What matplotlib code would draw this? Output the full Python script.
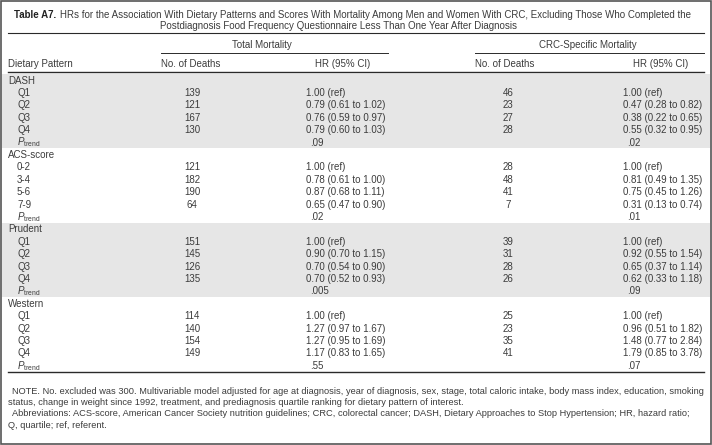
import matplotlib
matplotlib.use("Agg")
import matplotlib.pyplot as plt

plt.rcParams['font.family'] = ['Liberation Sans', 'DejaVu Sans']
plt.rcParams['mathtext.fontset'] = 'custom'
plt.rcParams['mathtext.rm'] = 'Liberation Sans'
plt.rcParams['mathtext.it'] = 'Liberation Sans:italic'

# table data
patterns = ['DASH', 'ACS-score', 'Prudent', 'Western']
levels = [['Q1', 'Q2', 'Q3', 'Q4'],
          ['0-2', '3-4', '5-6', '7-9'],
          ['Q1', 'Q2', 'Q3', 'Q4'],
          ['Q1', 'Q2', 'Q3', 'Q4']]

total_deaths = [[139, 121, 167, 130], [121, 182, 190, 64],
                [151, 145, 126, 135], [114, 140, 154, 149]]
total_hr = [[1.00, 0.79, 0.76, 0.79], [1.00, 0.78, 0.87, 0.65],
            [1.00, 0.90, 0.70, 0.70], [1.00, 1.27, 1.27, 1.17]]
total_lo = [[None, 0.61, 0.59, 0.60], [None, 0.61, 0.68, 0.47],
            [None, 0.70, 0.54, 0.52], [None, 0.97, 0.95, 0.83]]
total_hi = [[None, 1.02, 0.97, 1.03], [None, 1.00, 1.11, 0.90],
            [None, 1.15, 0.90, 0.93], [None, 1.67, 1.69, 1.65]]
total_ptrend = ['.09', '.02', '.005', '.55']

crc_deaths = [[46, 23, 27, 28], [28, 48, 41, 7],
              [39, 31, 28, 26], [25, 23, 35, 41]]
crc_hr = [[1.00, 0.47, 0.38, 0.55], [1.00, 0.81, 0.75, 0.31],
          [1.00, 0.92, 0.65, 0.62], [1.00, 0.96, 1.48, 1.79]]
crc_lo = [[None, 0.28, 0.22, 0.32], [None, 0.49, 0.45, 0.13],
          [None, 0.55, 0.37, 0.33], [None, 0.51, 0.77, 0.85]]
crc_hi = [[None, 0.82, 0.65, 0.95], [None, 1.35, 1.26, 0.74],
          [None, 1.54, 1.14, 1.18], [None, 1.82, 2.84, 3.78]]
crc_ptrend = ['.02', '.01', '.09', '.07']

title1 = ("HRs for the Association With Dietary Patterns and Scores With Mortality "
          "Among Men and Women With CRC, Excluding Those Who Completed the")
title2 = "Postdiagnosis Food Frequency Questionnaire Less Than One Year After Diagnosis"
notes = [
    "NOTE. No. excluded was 300. Multivariable model adjusted for age at diagnosis, year of diagnosis, "
    "sex, stage, total caloric intake, body mass index, education, smoking",
    "status, change in weight since 1992, treatment, and prediagnosis quartile ranking for dietary pattern of interest.",
    "Abbreviations: ACS-score, American Cancer Society nutrition guidelines; CRC, colorectal cancer; "
    "DASH, Dietary Approaches to Stop Hypertension; HR, hazard ratio;",
    "Q, quartile; ref, referent.",
]


def fmt_hr(hr, lo, hi):
    if lo is None:
        return f"{hr:.2f} (ref)"
    return f"{hr:.2f} ({lo:.2f} to {hi:.2f})"


fig = plt.figure(figsize=(7.12, 4.45), dpi=100)
ax = fig.add_axes([0, 0, 1, 1])
ax.set_xlim(0, 712)
ax.set_ylim(445, 0)
ax.axis('off')

txt = '#3c3c3c'
rule = '#2a2a2a'
fs = 7.0
fs_note = 6.7

# frame
ax.add_patch(plt.Rectangle((0.8, 0.8), 710.4, 443.4, fill=False, ec='#555555', lw=1.2))

# title
ax.text(14, 15, "Table A7.", fontsize=fs, fontweight='bold', color='#222222', va='center')
ax.text(60, 15, title1, fontsize=fs, color=txt, va='center')
ax.text(338, 26, title2, fontsize=fs, color=txt, va='center', ha='center')
ax.plot([8, 704], [33, 33], color=rule, lw=0.8)

# column headers
ax.text(262, 45, "Total Mortality", fontsize=fs, color=txt, va='center', ha='center')
ax.text(588, 45, "CRC-Specific Mortality", fontsize=fs, color=txt, va='center', ha='center')
ax.plot([161, 388], [53, 53], color=rule, lw=0.7)
ax.plot([475, 704], [53, 53], color=rule, lw=0.7)
ax.text(8, 64, "Dietary Pattern", fontsize=fs, color=txt, va='center')
ax.text(161, 64, "No. of Deaths", fontsize=fs, color=txt, va='center')
ax.text(370, 64, "HR (95% CI)", fontsize=fs, color=txt, va='center', ha='right')
ax.text(475, 64, "No. of Deaths", fontsize=fs, color=txt, va='center')
ax.text(688, 64, "HR (95% CI)", fontsize=fs, color=txt, va='center', ha='right')
ax.plot([8, 704], [72, 72], color=rule, lw=1.0)

# body
y0, dy = 80.5, 12.4
row = 0
for g, name in enumerate(patterns):
    top = y0 + row * dy
    if g % 2 == 0:
        ax.add_patch(plt.Rectangle((2, top - dy / 2 - 0.5), 708, 6 * dy,
                                   color='#e6e6e6', lw=0, zorder=0))
    ax.text(8, top, name, fontsize=fs, color=txt, va='center')
    for k, lev in enumerate(levels[g]):
        y = top + (k + 1) * dy
        ax.text(17, y, lev, fontsize=fs, color=txt, va='center')
        ax.text(192, y, str(total_deaths[g][k]), fontsize=fs, color=txt, va='center', ha='center')
        ax.text(306, y, fmt_hr(total_hr[g][k], total_lo[g][k], total_hi[g][k]),
                fontsize=fs, color=txt, va='center')
        ax.text(508, y, str(crc_deaths[g][k]), fontsize=fs, color=txt, va='center', ha='center')
        ax.text(623, y, fmt_hr(crc_hr[g][k], crc_lo[g][k], crc_hi[g][k]),
                fontsize=fs, color=txt, va='center')
    y = top + 5 * dy
    ax.text(17, y, r"$\mathit{P}_{\mathrm{trend}}$", fontsize=fs, color=txt, va='center')
    ax.text(310, y, total_ptrend[g], fontsize=fs, color=txt, va='center')
    ax.text(627, y, crc_ptrend[g], fontsize=fs, color=txt, va='center')
    row += 6

ax.plot([8, 704], [372, 372], color=rule, lw=1.0)

# footnotes
note_x = [12, 8, 12, 8]
for i, line in enumerate(notes):
    ax.text(note_x[i], 391 + i * 11.5, line, fontsize=fs_note, color=txt, va='center')

fig.savefig("out.png", dpi=100)
